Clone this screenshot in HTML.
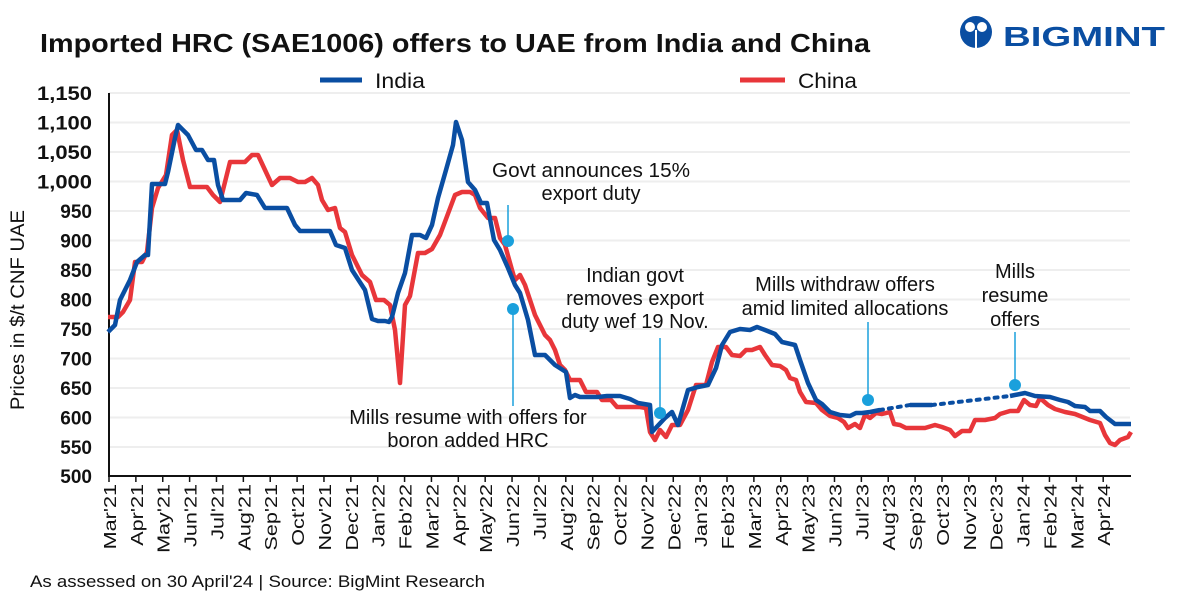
<!DOCTYPE html>
<html><head><meta charset="utf-8"><style>
body{margin:0;background:#fff;}
svg{display:block;font-family:"Liberation Sans",sans-serif;}
</style></head><body>
<svg width="1179" height="600" viewBox="0 0 1179 600" xmlns="http://www.w3.org/2000/svg">
<text x="40" y="52" font-size="26" font-weight="bold" fill="#111" textLength="830" lengthAdjust="spacingAndGlyphs">Imported HRC (SAE1006) offers to UAE from India and China</text>
<g fill="#0a4ea2">
<circle cx="976" cy="32" r="16"/>
<circle cx="970" cy="27" r="5" fill="#fff"/><circle cx="982" cy="27" r="5" fill="#fff"/>
<rect x="975" y="30" width="2" height="19" fill="#fff"/>
<text x="1003" y="46" font-size="28" font-weight="bold" textLength="162" lengthAdjust="spacingAndGlyphs">BIGMINT</text>
</g>
<line x1="320" y1="80" x2="362" y2="80" stroke="#0a4ea2" stroke-width="5"/>
<text x="375" y="88" font-size="21" fill="#111" textLength="50" lengthAdjust="spacingAndGlyphs">India</text>
<line x1="740" y1="80" x2="785" y2="80" stroke="#e8363a" stroke-width="5"/>
<text x="798" y="88" font-size="21" fill="#111" textLength="59" lengthAdjust="spacingAndGlyphs">China</text>
<g stroke="#eeeeee" stroke-width="2">
<line x1="109" y1="93" x2="1130" y2="93"/><line x1="109" y1="122.5" x2="1130" y2="122.5"/><line x1="109" y1="152" x2="1130" y2="152"/><line x1="109" y1="181.5" x2="1130" y2="181.5"/><line x1="109" y1="211" x2="1130" y2="211"/><line x1="109" y1="240.5" x2="1130" y2="240.5"/><line x1="109" y1="270" x2="1130" y2="270"/><line x1="109" y1="299.5" x2="1130" y2="299.5"/><line x1="109" y1="329" x2="1130" y2="329"/><line x1="109" y1="358.5" x2="1130" y2="358.5"/><line x1="109" y1="388" x2="1130" y2="388"/><line x1="109" y1="417.5" x2="1130" y2="417.5"/><line x1="109" y1="447" x2="1130" y2="447"/>
</g>
<g font-size="19" font-weight="bold" fill="#111" text-anchor="end">
<text x="92" y="100" textLength="55" lengthAdjust="spacingAndGlyphs">1,150</text><text x="92" y="129.5" textLength="55" lengthAdjust="spacingAndGlyphs">1,100</text><text x="92" y="159" textLength="55" lengthAdjust="spacingAndGlyphs">1,050</text><text x="92" y="188.5" textLength="55" lengthAdjust="spacingAndGlyphs">1,000</text><text x="92" y="218">950</text><text x="92" y="247.5">900</text><text x="92" y="277">850</text><text x="92" y="306.5">800</text><text x="92" y="336">750</text><text x="92" y="365.5">700</text><text x="92" y="395">650</text><text x="92" y="424.5">600</text><text x="92" y="454">550</text><text x="92" y="483">500</text>
</g>
<text transform="translate(24,310) rotate(-90)" font-size="19" fill="#111" text-anchor="middle" textLength="200" lengthAdjust="spacingAndGlyphs">Prices in $/t CNF UAE</text>
<line x1="109" y1="93" x2="109" y2="477" stroke="#111" stroke-width="2"/>
<line x1="108" y1="476" x2="1131" y2="476" stroke="#111" stroke-width="2"/>
<g id="ticks" stroke="#111" stroke-width="1.5"></g>
<g id="xl" font-size="18" fill="#111" text-anchor="end"></g>
<polyline fill="none" stroke="#e8363a" stroke-width="4.5" stroke-linejoin="round" points="108,317 118,317 123,312 130,300 135,262 142,262 147,252 152,208 158,188 166,175 172,135 177,130 183,160 190,187 207,187 213,195 220,202 230,162 245,162 252,155 258,155 265,170 272,185 280,178 290,178 298,182 305,182 312,178 318,185 322,200 328,210 335,208 340,228 345,232 352,255 362,275 370,282 376,300 384,300 390,305 395,330 400,383 405,305 410,296 418,253 425,253 432,249 440,235 455,195 462,192 470,192 475,195 480,208 488,218 495,218 500,238 505,245 512,270 515,280 520,275 525,285 530,300 535,315 540,325 545,335 550,340 555,350 560,365 565,370 570,380 580,380 586,392 597,392 602,400 611,400 617,407 640,407 646,408 650,432 655,440 660,430 666,437 672,425 680,425 688,410 696,385 706,385 712,362 718,347 726,347 732,355 740,356 746,350 752,350 760,347 765,355 772,365 780,366 786,370 790,378 796,380 800,392 806,402 816,403 822,410 830,416 838,418 844,422 848,428 855,424 860,428 865,415 870,418 876,413 882,414 890,412 894,424 900,425 906,428 916,428 925,428 935,425 942,427 950,430 955,436 962,431 970,431 975,420 985,420 995,418 1000,414 1010,411 1018,411 1024,400 1030,405 1036,406 1040,398 1048,405 1055,409 1065,412 1075,414 1090,420 1100,423 1105,435 1110,443 1115,445 1120,440 1128,437 1131,432"/>
<polyline fill="none" stroke="#0a4ea2" stroke-width="4.5" stroke-linejoin="round" points="108,332 115,325 120,300 130,280 137,262 145,255 148,255 152,184 165,184 168,172 175,138 178,125 188,135 196,150 202,150 208,160 214,160 218,185 223,200 240,200 246,193 257,195 265,208 287,208 295,225 300,231 330,231 336,245 345,248 352,270 365,290 372,319 378,321 385,321 389,322 392,317 398,293 405,273 412,235 420,235 426,238 432,225 438,198 446,170 453,145 456,122 462,140 468,182 475,190 481,203 487,203 494,240 500,250 508,268 515,285 520,293 528,320 535,355 545,355 555,365 566,372 570,398 575,395 580,397 588,397 598,397 607,396 620,396 630,399 638,403 650,405 652,432 665,418 672,412 678,425 688,390 698,387 708,385 716,368 722,345 730,332 740,329 750,330 757,327 765,330 775,334 782,342 795,345 800,360 808,383 816,400 822,404 830,412 840,415 850,416 856,413 862,413 870,412 880,410"/>
<polyline fill="none" stroke="#0a4ea2" stroke-width="4" stroke-dasharray="3,6" stroke-linecap="round" points="880,410 910,405"/>
<line x1="910" y1="405" x2="932" y2="405" stroke="#0a4ea2" stroke-width="4.5"/>
<polyline fill="none" stroke="#0a4ea2" stroke-width="4" stroke-dasharray="3,6" stroke-linecap="round" points="932,405 1010,396"/>
<polyline fill="none" stroke="#0a4ea2" stroke-width="4.5" stroke-linejoin="round" points="1010,396 1025,393 1035,396 1050,397 1060,400 1068,402 1075,406 1085,407 1090,411 1100,411 1106,417 1115,424 1131,424"/>
<g stroke="#1aa0dc" stroke-width="1.5">
<line x1="508" y1="241" x2="508" y2="205"/><line x1="513" y1="309" x2="513" y2="406"/>
<line x1="660" y1="413" x2="660" y2="338"/><line x1="868" y1="400" x2="868" y2="322"/><line x1="1015" y1="385" x2="1015" y2="332"/>
</g>
<g fill="#1aa0dc"><circle cx="508" cy="241" r="6"/><circle cx="513" cy="309" r="6"/><circle cx="660" cy="413" r="6"/><circle cx="868" cy="400" r="6"/><circle cx="1015" cy="385" r="6"/></g>
<g font-size="20" fill="#111" text-anchor="middle">
<text x="591" y="177" textLength="198" lengthAdjust="spacingAndGlyphs">Govt announces 15%</text><text x="591" y="200">export duty</text>
<text x="635" y="282">Indian govt</text><text x="635" y="305">removes export</text><text x="635" y="328">duty wef 19 Nov.</text>
<text x="845" y="291">Mills withdraw offers</text><text x="845" y="315">amid limited allocations</text>
<text x="1015" y="278">Mills</text><text x="1015" y="302">resume</text><text x="1015" y="326">offers</text>
<text x="468" y="424">Mills resume with offers for</text><text x="468" y="447">boron added HRC</text>
</g>
<text x="30" y="587" font-size="17" fill="#111" textLength="455" lengthAdjust="spacingAndGlyphs">As assessed on 30 April'24 | Source: BigMint Research</text>
<script>
var m=["Mar","Apr","May","Jun","Jul","Aug","Sep","Oct","Nov","Dec","Jan","Feb"];
var t=document.getElementById("ticks"),xl=document.getElementById("xl"),ns="http://www.w3.org/2000/svg";
for(var i=0;i<38;i++){var x=109+i*26.87;
var l=document.createElementNS(ns,"line");l.setAttribute("x1",x);l.setAttribute("x2",x);l.setAttribute("y1",476);l.setAttribute("y2",482);t.appendChild(l);
var mi=i%12,yr=21+Math.floor((i+2)/12);
var tx=document.createElementNS(ns,"text");tx.setAttribute("transform","translate("+(x+7)+",484) rotate(-90) scale(1.2,1)");tx.textContent=m[mi]+"'"+yr;xl.appendChild(tx);}
</script>
</svg>
</body></html>
